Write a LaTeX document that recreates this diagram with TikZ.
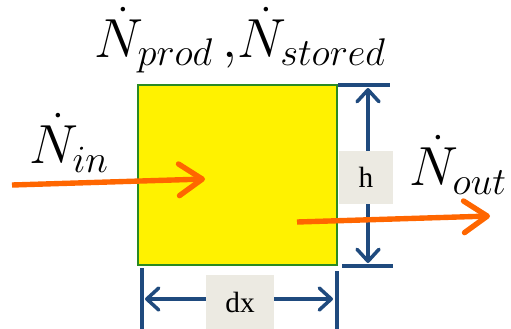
\RequirePackage{fix-cm}
\documentclass[tikz,border=0pt]{standalone}
\usepackage{fontspec}
\setmainfont{Liberation Serif}
\usetikzlibrary{arrows.meta}
\definecolor{floworange}{HTML}{FF6600}
\definecolor{dimblue}{HTML}{1F4A7E}
\definecolor{cvgreen}{HTML}{2A8A22}
\definecolor{tagbg}{HTML}{ECEAE2}
\begin{document}
\begin{tikzpicture}[x=0.03cm,y=-0.03cm,
  cvbox/.style={draw=cvgreen,line width=1.4pt,fill=yellow,minimum width=5.97cm,minimum height=5.4cm,inner sep=0pt},
  flow/.style={floworange,line width=4.6pt,-{Straight Barb[length=7mm,width=9.5mm,round]}},
  dimline/.style={dimblue,line width=3pt},
  dimarrow/.style={dimline,{Straight Barb[length=3.6mm,width=6.6mm,round]}-{Straight Barb[length=3.6mm,width=6.6mm,round]}},
  tag/.style={fill=tagbg,inner sep=0pt,font=\fontsize{25}{27}\selectfont},
  rate/.style={inner sep=0pt,font=\fontsize{47}{50}\selectfont}]
  \useasboundingbox (0,0) rectangle (511,328);
  % control volume
  \node[cvbox] (cv) at (237.5,175) {};
  % dimension h
  \draw[dimline] (338,85) -- (390,85);
  \draw[dimline] (342,266) -- (393,266);
  \coordinate (htop) at (368,88);
  \coordinate (hbot) at (368,263);
  \draw[dimarrow] (htop) -- (hbot);
  \node[tag,minimum width=1.62cm,minimum height=1.59cm] (hlab) at (366,177) {h};
  % dimension dx
  \draw[dimline] (142,268) -- (142,330);
  \draw[dimline] (337,271) -- (337,330);
  \coordinate (dxl) at (145,299);
  \coordinate (dxr) at (333,299);
  \draw[dimarrow] (dxl) -- (dxr);
  \node[tag,minimum width=2.04cm,minimum height=1.65cm] (dxlab) at (240,302) {dx};
  % flows
  \node[rate] (nin) at (69,143) {$\dot{N}_{in}$};
  \node[rate] (nout) at (458,165) {$\dot{N}_{out}$};
  \node[rate] (nps) at (240,40) {$\dot{N}_{prod}\,,\!\dot{N}_{stored}$};
  \coordinate (inS) at (12,185);
  \coordinate (inE) at (205,179);
  \coordinate (outS) at (297,222);
  \coordinate (outE) at (490,216);
  \draw[flow] (inS) -- (inE);
  \draw[flow] (outS) -- (outE);
\end{tikzpicture}
\end{document}
